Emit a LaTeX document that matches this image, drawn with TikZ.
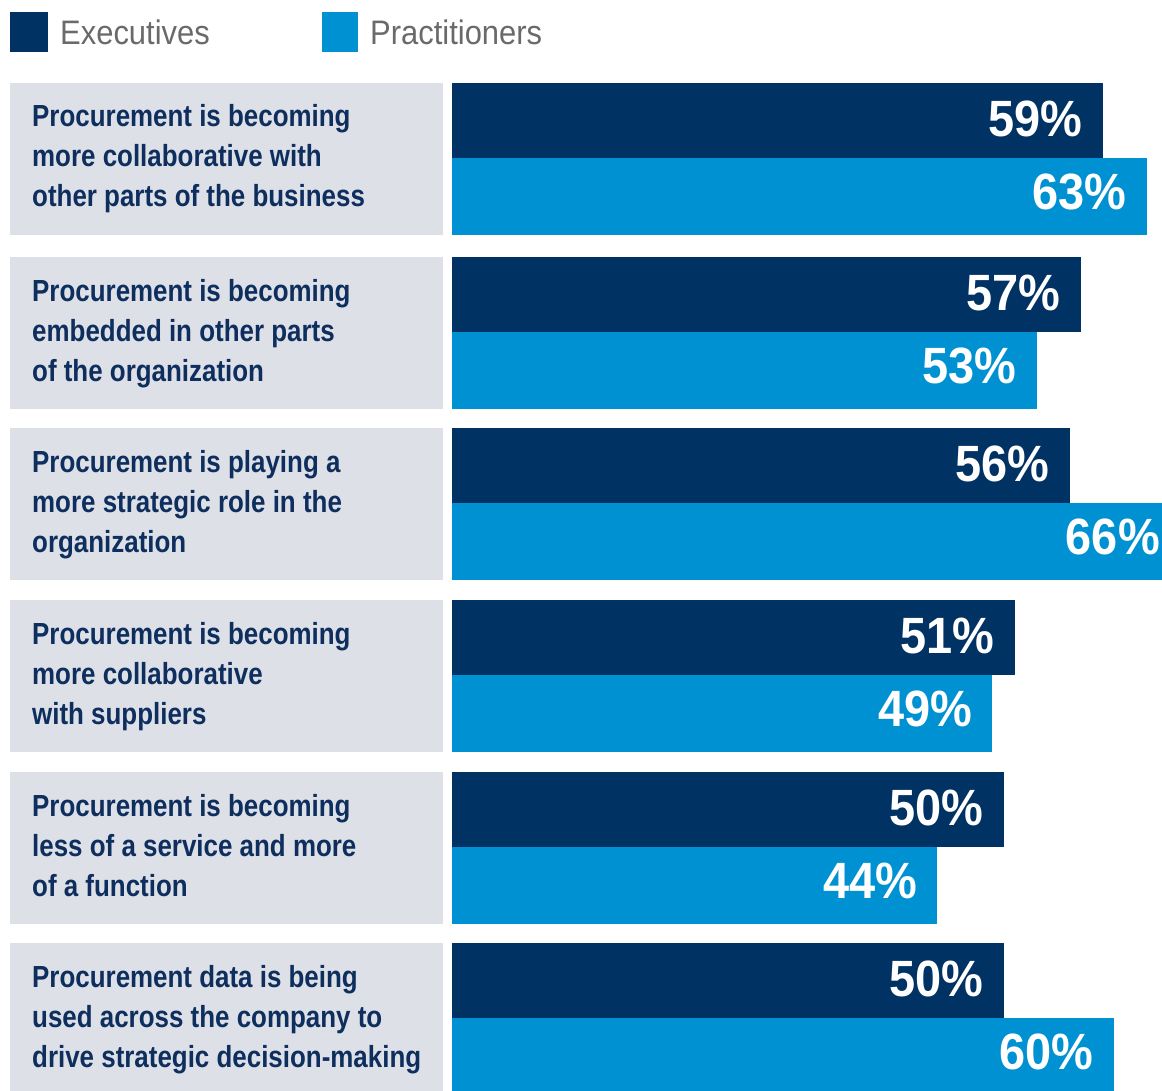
\documentclass[tikz,border=0pt]{standalone}
\usepackage{fontspec}
\setmainfont{Liberation Sans}
\newfontfamily\labfont[FakeStretch=0.85]{Liberation Sans}
\newfontfamily\legfont[FakeStretch=0.91]{Liberation Sans}
\newfontfamily\numfont[FakeStretch=0.92]{Liberation Sans}
\definecolor{execc}{HTML}{003264}
\definecolor{pracc}{HTML}{0091D2}
\definecolor{boxc}{HTML}{DDE0E7}
\definecolor{labtext}{HTML}{0E2E5E}
\definecolor{legtext}{HTML}{6A6A6A}
\begin{document}
\begin{tikzpicture}[x=1pt,y=-1pt,
  lab/.style={anchor=base west, inner sep=0, align=left, text=labtext,
    font=\labfont\bfseries\fontsize{30.5}{40}\selectfont},
  pct/.style={anchor=east, inner sep=0, text=white,
    font=\numfont\bfseries\fontsize{51}{51}\selectfont},
  leg/.style={anchor=base west, inner sep=0, text=legtext,
    font=\legfont\fontsize{34}{34}\selectfont},
  exec/.style={fill=execc},
  prac/.style={fill=pracc},
  labbox/.style={fill=boxc}]
\useasboundingbox (0,0) rectangle (1162,1091);
\clip (0,0) rectangle (1162,1091);
% legend
\fill[exec] (10,12) rectangle (48,52);
\node[leg] (legE) at (60,45) {Executives};
\fill[prac] (322,12) rectangle (358,52);
\node[leg] (legP) at (370,45) {Practitioners};
% rows
\foreach \t/\e/\p/\n in {83/59/63/1,257/57/53/2,428/56/66/3,600/51/49/4,772/50/44/5,943/50/60/6}{
  \fill[labbox] (10,\t) rectangle (443,\t+152);
  \fill[exec] (452,\t) rectangle ({452+11.03*\e},\t+75);
  \fill[prac] (452,\t+75) rectangle ({452+11.03*\p},\t+152);
  \node[pct] (e\n) at ({452+11.03*\e-20},\t+36) {\e\%};
  \node[pct] (p\n) at ({452+11.03*\p-20},\t+109) {\p\%};
}
% labels (base = baseline of last line)
\node[lab] (l1) at (32,207) {Procurement is becoming\\more collaborative with\\other parts of the business};
\node[lab] (l2) at (32,381) {Procurement is becoming\\embedded in other parts\\of the organization};
\node[lab] (l3) at (32,552) {Procurement is playing a\\more strategic role in the\\organization};
\node[lab] (l4) at (32,724) {Procurement is becoming\\more collaborative\\with suppliers};
\node[lab] (l5) at (32,896) {Procurement is becoming\\less of a service and more\\of a function};
\node[lab] (l6) at (32,1067) {Procurement data is being\\used across the company to\\drive strategic decision-making};
\end{tikzpicture}
\end{document}
